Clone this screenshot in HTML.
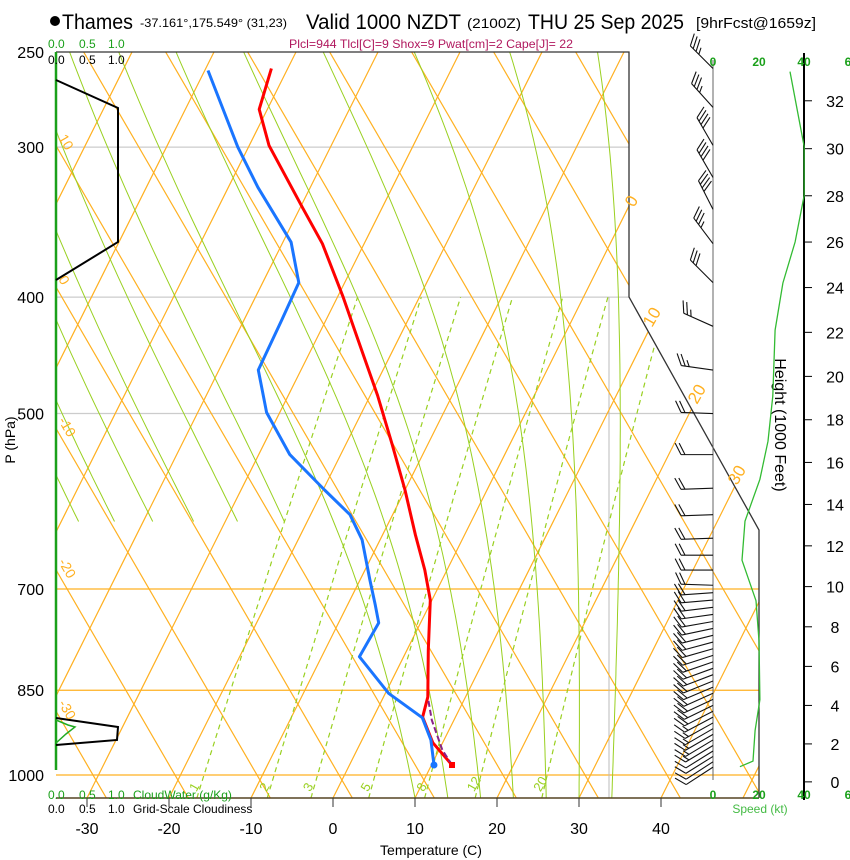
<!DOCTYPE html>
<html><head><meta charset="utf-8"><style>
body{margin:0;background:#fff;}
svg{display:block;font-family:"Liberation Sans",Arial,sans-serif;}
</style></head><body>
<svg id="c" width="850" height="860" viewBox="0 0 850 860" xmlns="http://www.w3.org/2000/svg">
<defs><clipPath id="pc"><polygon points="56,52 629,52 629,297 759,530 759,798 56,798"/></clipPath></defs>
<g id="bg" clip-path="url(#pc)"></g>
<g id="fg"></g>
<g>
<circle cx="55" cy="21" r="5" fill="#000"/>
<text x="62" y="29" font-size="21" textLength="71" lengthAdjust="spacingAndGlyphs">Thames</text>
<text x="140" y="27" font-size="12" textLength="147" lengthAdjust="spacingAndGlyphs">-37.161°,175.549° (31,23)</text>
<text x="306" y="29" font-size="21" textLength="155" lengthAdjust="spacingAndGlyphs">Valid 1000 NZDT</text>
<text x="467" y="28" font-size="14" textLength="54" lengthAdjust="spacingAndGlyphs">(2100Z)</text>
<text x="528" y="29" font-size="21" textLength="156" lengthAdjust="spacingAndGlyphs">THU 25 Sep 2025</text>
<text x="696" y="28" font-size="15" textLength="120" lengthAdjust="spacingAndGlyphs">[9hrFcst@1659z]</text>
<text x="289" y="48" font-size="12" fill="#b0185e" textLength="284" lengthAdjust="spacingAndGlyphs">Plcl=944 Tlcl[C]=9 Shox=9 Pwat[cm]=2 Cape[J]= 22</text>
</g>
</svg>
<script>
const tempTicks=[-30,-20,-10,0,10,20,30,40];
const presTicks=[250,300,400,500,700,850,1000];
const envP=[981,940,895,861,787,715,675,631,579,531,483,434,400,361,337,299,279,258];
const envT=[12.5,8.8,6.0,5.4,2.6,-0.2,-2.7,-6.0,-10.0,-14.3,-19.1,-24.9,-29.3,-35.1,-39.7,-47.6,-51.0,-52.0];
const dewP=[981,935,896,855,797,747,722,688,637,607,579,541,499,460,418,389,360,324,300,259];
const dewT=[10.3,8.4,6.0,0.4,-5.4,-5.1,-6.6,-8.8,-12.2,-15.2,-19.8,-26.2,-31.6,-35.2,-35.4,-35.6,-39.0,-46.4,-51.3,-59.6];
const parcelP=[981,953,900,863];
const parcelT=[12.5,10.4,7.3,5.5];
const windP=[258,278,299,318,338,361,389,423,460,500,541,577,607,635,656,675,695,705,715,725,735,745,755,765,775,785,795,805,815,825,835,845,855,865,875,885,895,905,915,925,935,945,955,965,975,985];
const windDir=[315,318,330,330,333,323,315,294,278,272,270,268,268,268,270,270,272,266,265,263,262,260,258,256,255,254,252,251,250,249,248,247,246,245,244,243,242,241,240,240,239,239,238,238,237,237];
const windSpd=[35,35,40,40,40,35,30,25,25,22,22,20,20,20,20,20,20,20,20,20,20,20,20,20,20,20,20,20,20,20,20,20,20,18,18,18,16,16,15,15,14,13,12,12,11,11];
const spdH=[0.8,1.1,2.7,4.3,7.3,9.3,11.3,13.2,15.2,17.0,19.1,22.1,24.2,26,28,30.1,33.2];
const spdV=[11.7,17.4,18.3,20.4,20,18.7,12.6,13.9,20.4,23.9,26,27,30.4,35.7,39.6,39.6,33.5];
const heightTicks=[0,2,4,6,8,10,12,14,16,18,20,22,24,26,28,30,32];
const mixRatios=[1,2,3,5,8,12,20];
const thetaLabels=[10,0,-10,-20,-30];

const NS="http://www.w3.org/2000/svg";
const bg=document.getElementById('bg'),fg=document.getElementById('fg');
function Y(p){return 775+521.5*Math.log(p/1000);}
function X(T,p){return 333+8.2*T+0.5*(798-Y(p));}
function el(tag,attrs,parent){const e=document.createElementNS(NS,tag);for(const k in attrs)e.setAttribute(k,attrs[k]);(parent||fg).appendChild(e);return e;}
function pathD(pts){return pts.map((q,i)=>(i?'L':'M')+q[0].toFixed(1)+','+q[1].toFixed(1)).join('');}
function txt(x,y,s,attrs,parent){const t=el('text',Object.assign({x:x,y:y},attrs),parent);t.textContent=s;return t;}
const OR='#ffb020',GR='#99d020';

[[300,'#ccc',629],[400,'#ccc',629],[500,'#ccc',695],[700,OR,759],[850,OR,759],[1000,OR,759]].forEach(a=>{
 const l=el('line',{x1:56,x2:a[2],y1:Y(a[0]),y2:Y(a[0]),stroke:a[1],'stroke-width':1.2},bg);
 
 
});
el('line',{x1:609,x2:609,y1:297,y2:798,stroke:'#bbb','stroke-width':1},bg);
for(let T=-130;T<=50;T+=10){
 const l=el('line',{x1:X(T,1050),y1:Y(1050),x2:X(T,150),y2:Y(150),stroke:OR,'stroke-width':1.2},bg);
 
 
}
// dry adiabats (near-straight in this projection)
for(let k=-6;k<=14;k++){
 const x0=339+82*k;
 const l=el('line',{x1:x0+0.58*(820-775),y1:820,x2:x0+0.58*(30-775),y2:30,stroke:OR,'stroke-width':1.2},bg);
 
 
}
function es(T){return 6.112*Math.exp(17.67*T/(T+243.5));}
for(let T0=-14;T0<=34;T0+=4){
 let T=T0+273.15;const pts=[];
 const pStart=T0<10?620:1045;
 for(let p=1045;p>=200;p-=1){
  if((p%10==5||p==1045)&&p<=pStart)pts.push([X(T-273.15,p),Y(p)]);
  const e=es(T-273.15),rs=0.622*e/(p-e);
  const dTdp=(287*T+2.5e6*rs)/(p*(1004+2.5e6*2.5e6*rs*0.622/(287*T*T)));
  T-=dTdp;
 }
 const l=el('path',{d:pathD(pts),fill:'none',stroke:GR,'stroke-width':1},bg);
 
 
}
function tdFromW(w,p){const e=w*p/(622+w);const L=Math.log(e/6.112);return 243.5*L/(17.67-L);}
mixRatios.forEach(w=>{
 const pts=[];for(let p=1045;p>=400;p-=5)pts.push([X(tdFromW(w,p),p),Y(p)]);
 const l=el('path',{d:pathD(pts),fill:'none',stroke:GR,'stroke-width':1.2,'stroke-dasharray':'5,4'},bg);
 
 
 const lx=X(tdFromW(w,1030),1030)-3,ly=Y(1030)+2;
 const t=txt(lx,ly,String(w),{'font-size':13,fill:GR,transform:'rotate(-60 '+lx+' '+ly+')'});
 
 
});
el('polyline',{points:'56,52 629,52 629,297 759,530 759,798',fill:'none',stroke:'#333','stroke-width':1.3});
el('line',{x1:56,x2:759,y1:798,y2:798,stroke:'#554422','stroke-width':1.5});
el('line',{x1:56,x2:56,y1:52,y2:770,stroke:'#1aa01a','stroke-width':2.5});
el('line',{x1:713,x2:713,y1:60,y2:780,stroke:'#666','stroke-width':1});
el('line',{x1:804,x2:804,y1:53,y2:800,stroke:'#000','stroke-width':2});
el('polyline',{points:'56,80 118,108 118,242 56,280',fill:'none',stroke:'#000','stroke-width':2});
el('polyline',{points:'56,718 118,727 117,740 56,745',fill:'none',stroke:'#000','stroke-width':2});
el('polyline',{points:'56,720 68,725 75,727 66,734 56,743',fill:'none',stroke:'#22aa22','stroke-width':1.5});
presTicks.forEach(p=>{const t=txt(44,Y(p)+6,String(p),{'font-size':16,'text-anchor':'end'});
 
 });
const pt=txt(15,440,'P (hPa)',{'font-size':14,'text-anchor':'middle',transform:'rotate(-90 15 440)'});


tempTicks.forEach(T=>{const x=333+8.2*T;
 el('line',{x1:x,x2:x,y1:798,y2:807,stroke:'#333','stroke-width':1});
 const t=txt(x,834,String(T),{'font-size':16,'text-anchor':'middle'});
 
 });
const xt=txt(431,855,'Temperature (C)',{'font-size':14,'text-anchor':'middle'});


txt(48,48,'0.0',{'font-size':12,fill:'#1aa01a'});txt(79,48,'0.5',{'font-size':12,fill:'#1aa01a'});txt(108,48,'1.0',{'font-size':12,fill:'#1aa01a'});
txt(48,64,'0.0',{'font-size':12});txt(79,64,'0.5',{'font-size':12});txt(108,64,'1.0',{'font-size':12});
txt(48,799,'0.0',{'font-size':12,fill:'#1aa01a'});txt(79,799,'0.5',{'font-size':12,fill:'#1aa01a'});txt(108,799,'1.0',{'font-size':12,fill:'#1aa01a'});
txt(133,799,'CloudWater (g/Kg)',{'font-size':12,fill:'#1aa01a'});
txt(48,813,'0.0',{'font-size':12});txt(79,813,'0.5',{'font-size':12});txt(108,813,'1.0',{'font-size':12});
txt(133,813,'Grid-Scale Cloudiness',{'font-size':12});
thetaLabels.forEach((th,i)=>{
 const y0=775+(56-339-82*(th/10))/0.58;
 const x=58,y=y0-8;
 const t=txt(x,y,String(th),{'font-size':14,fill:OR,transform:'rotate(60 '+x+' '+y+')'});
 
 
});
[[0,200,634],[10,320,652],[20,397,697],[30,478,737]].forEach(a=>{
 const x=a[2],y=a[1]+8;
 const t=txt(x,y,String(a[0]),{'font-size':17,fill:OR,transform:'rotate(-60 '+x+' '+y+')'});
 
 
});
[[713,'0'],[759,'20'],[804,'40'],[848,'6']].forEach(a=>{
 txt(a[0],66,a[1],{'font-size':12,'font-weight':'bold',fill:'#1aa01a','text-anchor':'middle'});
 txt(a[0],799,a[1],{'font-size':12,'font-weight':'bold',fill:'#1aa01a','text-anchor':'middle'});
});
txt(760,813,'Speed (kt)',{'font-size':12,fill:'#44bb44','text-anchor':'middle'});
function HY(h){const p=1013.25*Math.pow(1-2.25577e-5*h*304.8,5.25588);return Y(p);}
heightTicks.forEach(h=>{const y=HY(h);
 el('line',{x1:804,x2:812,y1:y,y2:y,stroke:'#000','stroke-width':1});
 const t=txt(835,y+6,String(h),{'font-size':16,'text-anchor':'middle'});
 
 });
const ht=txt(775,425,'Height (1000 Feet)',{'font-size':16,'text-anchor':'middle',transform:'rotate(90 775 425)'});


const sp=el('path',{d:pathD(spdH.map((h,i)=>[713+spdV[i]*2.3,HY(h)])),fill:'none',stroke:'#33bb33','stroke-width':1.3});


const tl=el('path',{d:pathD(envP.map((p,i)=>[X(envT[i],p),Y(p)])),fill:'none',stroke:'#ff0000','stroke-width':3,'stroke-linejoin':'round'});


const dl=el('path',{d:pathD(dewP.map((p,i)=>[X(dewT[i],p),Y(p)])),fill:'none',stroke:'#1a75ff','stroke-width':3,'stroke-linejoin':'round'});


const pl=el('path',{d:pathD(parcelP.map((p,i)=>[X(parcelT[i],p),Y(p)])),fill:'none',stroke:'#882288','stroke-width':2,'stroke-dasharray':'6,3'});


const sm=el('rect',{x:X(envT[0],envP[0])-3,y:Y(envP[0])-3,width:6,height:6,fill:'#ff0000'});


const dm=el('circle',{cx:X(dewT[0],dewP[0]),cy:Y(dewP[0]),r:3.5,fill:'#1a75ff'});


windP.forEach((p,i)=>{
 const d=windDir[i]*Math.PI/180,ux=Math.sin(d),uy=-Math.cos(d);
 const bx=713,by=Y(p),L=32,tx=bx+ux*L,ty=by+uy*L;
 const g=el('g',{});
 
 
 el('line',{x1:bx,y1:by,x2:tx,y2:ty,stroke:'#111','stroke-width':1.1},g);
 const px=-uy,py=ux,vx=px*0.88+ux*0.45,vy=py*0.88+uy*0.45;
 let s=windSpd[i],k=0;
 while(s>=7.5){const ox=tx-ux*k*4,oy=ty-uy*k*4;
  el('line',{x1:ox,y1:oy,x2:ox+vx*13,y2:oy+vy*13,stroke:'#111','stroke-width':1.1},g);s-=10;k++;}
 if(s>=2.5){const ox=tx-ux*(k+(k?0:1))*4,oy=ty-uy*(k+(k?0:1))*4;
  el('line',{x1:ox,y1:oy,x2:ox+vx*7,y2:oy+vy*7,stroke:'#111','stroke-width':1.1},g);}
});
</script>
</body></html>
